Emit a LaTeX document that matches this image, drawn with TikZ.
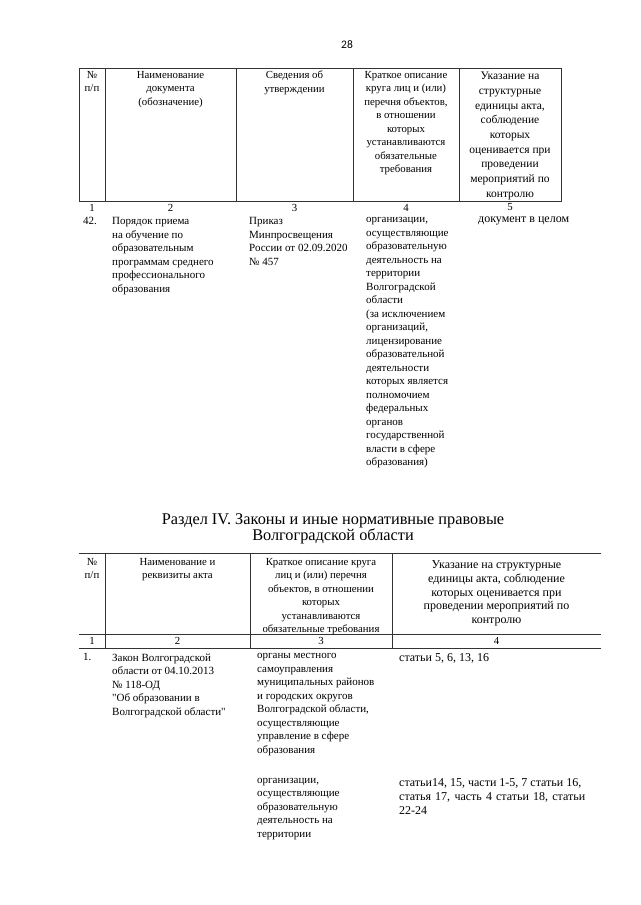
\documentclass[tikz,border=0pt]{standalone}
\usepackage{fontspec}
\setmainfont{Liberation Serif}
\newfontfamily\pagenumfont{Carlito}
\newcommand\plainq{\XeTeXglyph\XeTeXglyphindex "quotedbl"\relax}
\usetikzlibrary{positioning}
\tikzset{rule/.style={line width=0.7pt, black!80}}
\tikzset{txt/.style={inner sep=0pt, anchor=north west, align=left, font=\fontsize{11}{13.5}\selectfont}}
\tikzset{txtbig/.style={txt, font=\fontsize{12}{14}\selectfont}}
\tikzset{hd/.style={inner sep=0pt, anchor=north, align=center, font=\fontsize{10.8}{13.5}\selectfont}}
\tikzset{hdbig/.style={hd, font=\fontsize{11.5}{14.7}\selectfont}}
\tikzset{colnum/.style={inner sep=0pt, font=\fontsize{10.8}{13.5}\selectfont}}

\begin{document}
\begin{tikzpicture}[x=1pt,y=-1pt]
    \fill[white] (0,0) rectangle (640,905);
    \useasboundingbox (0,0) rectangle (640,905);

    \node[font=\pagenumfont\fontsize{11.5}{13}\selectfont] (pg) at (347,45) {28};

    % first table
    \draw[rule] (79,68) rectangle (561,201);
    \foreach \x in {105,236,353,459}
        \draw[rule] (\x,68) -- (\x,201);

    \node[hd] (hNum) at (92,71) {№\\п/п};
    \node[hd] (hName) at (170.5,71) {Наименование\\документа\\(обозначение)};
    \node[hd] (hInfo) at (294.5,71) {Сведения об\\утверждении};
    \node[hd] (hDesc) at (406,71) {Краткое описание\\круга лиц и (или)\\перечня объектов,\\в отношении\\которых\\устанавливаются\\обязательные\\требования};
    \node[hdbig] (hUnit) at (510,72) {Указание на\\структурные\\единицы акта,\\соблюдение\\которых\\оценивается при\\проведении\\мероприятий по\\контролю};

    \foreach \x/\n in {92/1,170.5/2,294.5/3,406/4,510/5}
        \node[colnum] (c\n) at (\x,207.5) {\n};

    \node[txt] (rNum) at (83,217.5) {42.};
    \node[txt] (rName) at (112,217.5) {Порядок приема\\на обучение по\\образовательным\\программам среднего\\профессионального\\образования};
    \node[txt] (rAct) at (249,217.5) {Приказ\\Минпросвещения\\России от 02.09.2020\\№ 457};
    \node[txt] (rDesc) at (366,217.5) {организации,\\осуществляющие\\образовательную\\деятельность на\\территории\\Волгоградской\\области\\(за исключением\\организаций,\\лицензирование\\образовательной\\деятельности\\которых является\\полномочием\\федеральных\\органов\\государственной\\власти в сфере\\образования)};
    \node[txtbig] (rUnit) at (478,217) {документ в целом};

    % section title
    \node[align=center, inner sep=0pt, font=\fontsize{16.3}{15}\selectfont] (sec) at (333,528.5) {Раздел IV. Законы и иные нормативные правовые\\Волгоградской области};

    % second table
    \foreach \y in {553,634,648}
        \draw[rule] (79,\y) -- (601,\y);
    \foreach \x in {105,250,392}
        \draw[rule] (\x,553) -- (\x,648);

    \node[hd] (tNum) at (92,558) {№\\п/п};
    \node[hd] (tName) at (177.5,558) {Наименование и\\реквизиты акта};
    \node[hd] (tDesc) at (321,558) {Краткое описание круга\\лиц и (или) перечня\\объектов, в отношении\\которых\\устанавливаются\\обязательные требования};
    \node[hd, font=\fontsize{12}{13.8}\selectfont] (tUnit) at (496.5,560.5) {Указание на структурные\\единицы акта, соблюдение\\которых оценивается при\\проведении мероприятий по\\контролю};

    \foreach \x/\n in {92/1,177.5/2,321/3,496.5/4}
        \node[colnum] (m\n) at (\x,641) {\n};

    \node[txt] (sNum) at (83,653.5) {1.};
    \node[txt] (sName) at (112,653.5) {Закон Волгоградской\\области от 04.10.2013\\№ 118-ОД\\\plainq Об образовании в\\Волгоградской области\plainq};
    \node[txt] (sDescA) at (257,653.5) {органы местного\\самоуправления\\муниципальных районов\\и городских округов\\Волгоградской области,\\осуществляющие\\управление в сфере\\образования};
    \node[txtbig] (sUnitA) at (399,653) {статьи 5, 6, 13, 16};
    \node[txt, below=22pt of sDescA.south west, anchor=north west] (sDescB) {организации,\\осуществляющие\\образовательную\\деятельность на\\территории};
    \node[txtbig] (sUnitB) at (sDescB.north west -| sUnitA.west) {статьи14, 15, части 1-5, 7 статьи 16,\\\makebox[186pt][s]{статья 17, часть 4 статьи 18, статьи}\\22-24};
\end{tikzpicture}
\end{document}
